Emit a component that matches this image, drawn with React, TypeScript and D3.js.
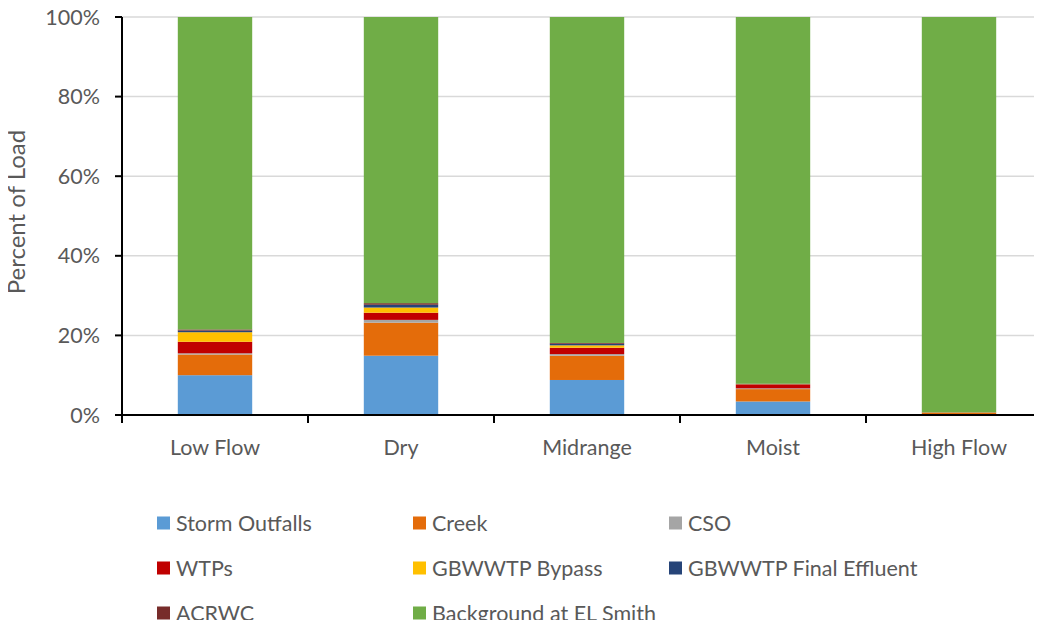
import React, { useEffect, useRef } from 'react';
import * as d3 from 'd3';

const categories = ['Low Flow', 'Dry', 'Midrange', 'Moist', 'High Flow'];

const seriesNames = [
  'Storm Outfalls',
  'Creek',
  'CSO',
  'WTPs',
  'GBWWTP Bypass',
  'GBWWTP Final Effluent',
  'ACRWC',
  'Background at EL Smith',
];

const seriesColors = ['#5B9BD5', '#E46C0A', '#A5A5A5', '#C00000', '#FFC000', '#264478', '#772C2A', '#70AD47'];

// percent of load per category, one array per source
const stormOutfalls = [10.0, 14.9, 8.8, 3.4, 0.1];
const creek = [5.2, 8.3, 6.1, 3.1, 0.5];
const cso = [0.3, 0.7, 0.4, 0.2, 0.0];
const wtps = [2.9, 1.8, 1.6, 1.0, 0.05];
const gbwwtpBypass = [2.4, 1.3, 0.6, 0.05, 0.0];
const gbwwtpFinal = [0.4, 0.7, 0.4, 0.05, 0.0];
const acrwc = [0.3, 0.4, 0.2, 0.05, 0.0];
const background = [78.5, 71.9, 81.9, 92.15, 99.35];

const yTicks = [0, 20, 40, 60, 80, 100];

const FONT = 'Lato, "Open Sans", sans-serif';
const FS = 21.5;

export default function App() {
  const svgRef = useRef<SVGSVGElement>(null);

  useEffect(() => {
    if (!svgRef.current) return;
    const svg = d3.select(svgRef.current);
    svg.selectAll('*').remove();

    const left = 122;
    const right = 1052;
    const top = 17;
    const bottom = 415;

    const allSeries = [stormOutfalls, creek, cso, wtps, gbwwtpBypass, gbwwtpFinal, acrwc, background];
    const rows = categories.map((c, i) => {
      const row: Record<string, any> = { category: c };
      seriesNames.forEach((s, j) => (row[s] = allSeries[j][i]));
      return row;
    });

    const stacked = d3.stack<any>().keys(seriesNames)(rows);

    const x = d3.scaleBand().domain(categories).range([left, right]).paddingInner(0.6).paddingOuter(0.3);
    const xStep = d3.scaleBand().domain(categories).range([left, right]).padding(0);
    const y = d3.scaleLinear().domain([0, 100]).range([bottom, top]);

    // gridlines
    svg.append('g')
      .selectAll('line')
      .data(yTicks.filter(t => t > 0))
      .enter()
      .append('line')
      .attr('x1', left)
      .attr('x2', 1042)
      .attr('y1', d => y(d))
      .attr('y2', d => y(d))
      .attr('stroke', '#d9d9d9')
      .attr('stroke-width', 1.5);

    // bars
    svg.append('g')
      .selectAll('g')
      .data(stacked)
      .enter()
      .append('g')
      .attr('fill', (_, i) => seriesColors[i])
      .selectAll('rect')
      .data(d => d)
      .enter()
      .append('rect')
      .attr('x', d => x(d.data.category)!)
      .attr('width', x.bandwidth())
      .attr('y', d => y(d[1]))
      .attr('height', d => Math.max(0, y(d[0]) - y(d[1])));

    // y axis
    const yAxis = svg.append('g');
    yAxis.append('line')
      .attr('x1', left).attr('x2', left)
      .attr('y1', top).attr('y2', bottom + 7)
      .attr('stroke', '#000').attr('stroke-width', 2);
    yAxis.selectAll('.ytick')
      .data(yTicks)
      .enter()
      .append('line')
      .attr('x1', left - 7).attr('x2', left)
      .attr('y1', d => y(d)).attr('y2', d => y(d))
      .attr('stroke', '#000').attr('stroke-width', 2);
    yAxis.selectAll('text')
      .data(yTicks)
      .enter()
      .append('text')
      .attr('x', 100)
      .attr('y', d => y(d))
      .attr('dy', '0.35em')
      .attr('text-anchor', 'end')
      .attr('fill', '#595959')
      .attr('font-family', FONT)
      .attr('font-size', FS)
      .text(d => `${d}%`);

    svg.append('text')
      .attr('transform', `translate(25,${212}) rotate(-90)`)
      .attr('text-anchor', 'middle')
      .attr('fill', '#595959')
      .attr('font-family', FONT)
      .attr('font-size', 24)
      .text('Percent of Load');

    // x axis
    const xAxis = svg.append('g');
    xAxis.append('line')
      .attr('x1', left - 7).attr('x2', 1042)
      .attr('y1', bottom).attr('y2', bottom)
      .attr('stroke', '#000').attr('stroke-width', 2);
    xAxis.selectAll('.xtick')
      .data(categories)
      .enter()
      .append('line')
      .attr('x1', d => xStep(d)!).attr('x2', d => xStep(d)!)
      .attr('y1', bottom).attr('y2', bottom + 8)
      .attr('stroke', '#000').attr('stroke-width', 2);
    xAxis.selectAll('text')
      .data(categories)
      .enter()
      .append('text')
      .attr('x', d => x(d)! + x.bandwidth() / 2)
      .attr('y', 447)
      .attr('dy', '0.35em')
      .attr('text-anchor', 'middle')
      .attr('fill', '#595959')
      .attr('font-family', FONT)
      .attr('font-size', FS)
      .text(d => d);

    // legend
    const legend = svg.append('g');
    seriesNames.forEach((name, i) => {
      const col = i % 3;
      const row = Math.floor(i / 3);
      const lx = 157 + col * 256;
      const ly = 523 + row * 45;
      legend.append('rect')
        .attr('x', lx).attr('y', ly - 6.5)
        .attr('width', 13).attr('height', 13)
        .attr('fill', seriesColors[i]);
      legend.append('text')
        .attr('x', lx + 19).attr('y', ly)
        .attr('dy', '0.35em')
        .attr('fill', '#595959')
        .attr('font-family', FONT)
        .attr('font-size', FS)
        .text(name);
    });
  }, []);

  return <svg ref={svgRef} width={1042} height={628} style={{ display: 'block', margin: '-8px' }} />;
}
